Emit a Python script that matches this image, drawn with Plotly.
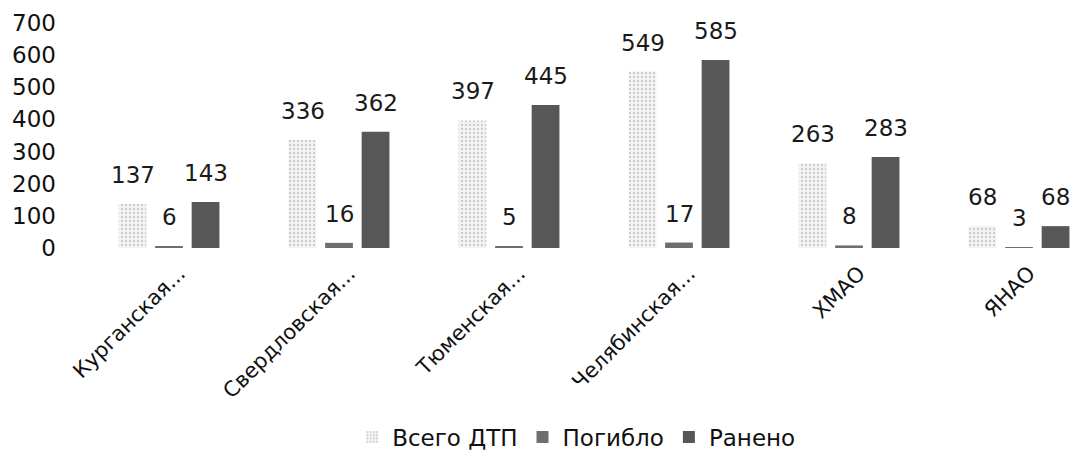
import plotly.graph_objects as go

categories = ["Курганская...", "Свердловская...", "Тюменская...", "Челябинская...", "ХМАО", "ЯНАО"]
total = [137, 336, 397, 549, 263, 68]
killed = [6, 16, 5, 17, 8, 3]
injured = [143, 362, 445, 585, 283, 68]
y_ticks = [0, 100, 200, 300, 400, 500, 600, 700]

font = "DejaVu Sans"
series = [
    ("Всего ДТП", total, dict(color="#f0f0f0",
                             pattern=dict(shape=".", fgcolor="#a0a0a0", bgcolor="#f3f3f3", size=4, solidity=0.25),
                             line=dict(width=0))),
    ("Погибло", killed, dict(color="#6e6e6e", line=dict(width=0))),
    ("Ранено", injured, dict(color="#575757", line=dict(width=0))),
]

fig = go.Figure()
for name, vals, marker in series:
    fig.add_trace(go.Bar(name=name, x=categories, y=vals, marker=marker, textposition="none"))

# value labels above each bar, offset to the bar's slot within the group
slot_px = 36.5
for i, (name, vals, _) in enumerate(series):
    for c, v in zip(categories, vals):
        fig.add_annotation(x=c, y=v, xref="x", yref="y", text=str(v), showarrow=False,
                           xanchor="center", yanchor="bottom", xshift=(i - 1) * slot_px, yshift=14,
                           font=dict(size=23, family=font, color="#1a1a1a"))

fig.update_layout(
    width=1070, height=445,
    margin=dict(l=76, r=0, t=15, b=205),
    paper_bgcolor="white", plot_bgcolor="white",
    barmode="group", bargap=0.355, bargroupgap=0.24,
    font=dict(family=font, color="#111"),
    showlegend=True,
    legend=dict(orientation="h", xref="container", x=0.531, xanchor="center",
                yref="container", y=0.036, yanchor="middle",
                font=dict(size=23, family=font, color="#111"), itemwidth=30, traceorder="normal"),
)
fig.update_xaxes(range=[-0.5, 5.347], tickangle=-45, showgrid=False, showline=False, ticks="",
                 tickfont=dict(size=21, family=font, color="#111"), automargin=False,
                 ticklabelstandoff=8, ticklabelshift=10)
fig.update_yaxes(range=[0, 700], tickvals=y_ticks, showgrid=False, showline=False, zeroline=False,
                 ticks="", tickfont=dict(size=23, family=font, color="#111"), ticklabelstandoff=27,
                 automargin=False)
fig.write_html("out.html")
